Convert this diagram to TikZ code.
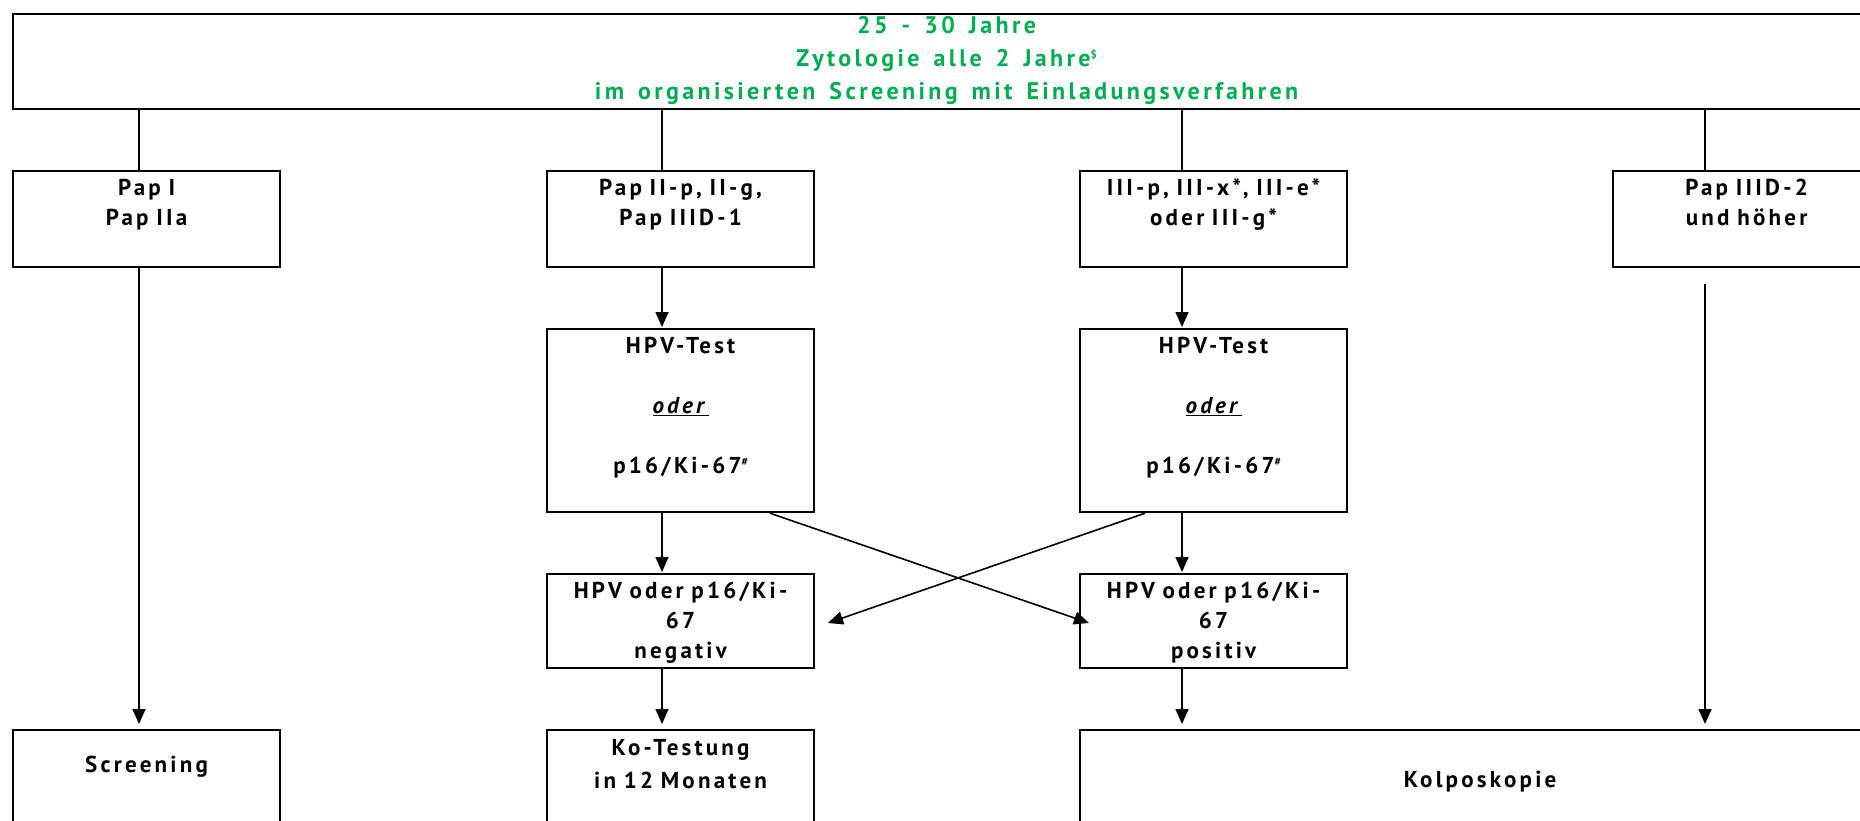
\documentclass[tikz,border=0pt]{standalone}
\usepackage{fontspec}
\setmainfont{PT Sans}[LetterSpace=14]
\usepackage{tikz}
\usetikzlibrary{arrows.meta}

\definecolor{agegreen}{RGB}{0,176,80}
\newcommand\supmark[1]{\raisebox{8pt}{\fontsize{11}{11}\selectfont#1}}

\begin{document}
\begin{tikzpicture}[x=1pt,y=-1pt]
\tikzset{stepbox/.style={draw,line width=2.2pt,anchor=north west,inner sep=0pt,
           font=\fontsize{23}{30}\selectfont\bfseries,
           align=center,text width=267pt,text height=24pt},
         flow/.style={line width=1.6pt,-{Triangle[length=15pt,width=13pt]}},
         branch/.style={line width=1.3pt}}
\useasboundingbox (0,0) rectangle (1860,820);
\clip (0,0) rectangle (1860,820);
% Age group
\node[stepbox,font=\fontsize{24}{30}\selectfont\bfseries,text width=1867pt,
      execute at begin node={\spaceskip 14pt\relax},
      text height=19pt,text depth=76pt,text=agegreen] (age) at (12,13)
  {25 - 30 Jahre\\[3pt]Zytologie alle 2 Jahre\supmark{\$}\\[3pt]im organisierten Screening mit Einladungsverfahren};
% Cytology results
\node[stepbox,text depth=72pt] (papI) at (12,170) {Pap I\\Pap IIa};
\node[stepbox,text depth=72pt] (papII) at (546,170) {Pap II-p, II-g,\\Pap IIID-1};
\node[stepbox,text depth=72pt] (papIII) at (1079,170) {III-p, III-x*, III-e*\\oder III-g*};
\node[stepbox,text depth=72pt] (papIIID) at (1612,170) {Pap IIID-2\\und höher};
% Tests
\node[stepbox,text depth=159pt] (hpvL) at (546,328)
  {HPV-Test\\[30pt]\underline{\textit{oder}}\\[30pt]p16/Ki-67\supmark{\#}};
\node[stepbox,text depth=159pt] (hpvR) at (1079,328)
  {HPV-Test\\[30pt]\underline{\textit{oder}}\\[30pt]p16/Ki-67\supmark{\#}};
\node[stepbox,text depth=70pt] (neg) at (546,573) {HPV oder p16/Ki-\\67\\negativ};
\node[stepbox,text depth=70pt] (pos) at (1079,573) {HPV oder p16/Ki-\\67\\positiv};
% Consequences
\node[stepbox,text height=42pt,text depth=80pt] (screen) at (12,729) {Screening};
\node[stepbox,text height=25pt,text depth=100pt] (cotest) at (546,729) {Ko-Testung\\[3pt]in 12 Monaten};
\node[stepbox,text width=800pt,text height=57pt,text depth=70pt] (colpo) at (1079,729) {Kolposkopie};
% Line positions
\coordinate (xa) at (139,0);
\coordinate (xb) at (662,0);
\coordinate (xc) at (1182,0);
\coordinate (xd) at (1705,0);
\coordinate (xe) at (770,0);
\coordinate (xf) at (1145,0);
\coordinate (negtip) at (828,623);
\coordinate (postip) at (1089,623);
% Branches from the age box
\foreach \c/\n in {xa/papI,xb/papII,xc/papIII,xd/papIIID}
  \draw[branch] (age.south -| \c) -- (\n.north -| \c);
% Arrows
\draw[flow,shorten >=5pt] (papI.south -| xa) -- (screen.north -| xa);
\draw[flow,shorten >=1pt] (papII.south -| xb) -- (hpvL.north -| xb);
\draw[flow,shorten >=1pt] (papIII.south -| xc) -- (hpvR.north -| xc);
\draw[flow,shorten <=16pt,shorten >=5pt] (papIIID.south -| xd) -- (colpo.north -| xd);
\draw[flow,shorten >=1pt] (hpvL.south -| xb) -- (neg.north -| xb);
\draw[flow,shorten >=1pt] (hpvR.south -| xc) -- (pos.north -| xc);
\draw[flow] (hpvL.south -| xe) -- (postip);
\draw[flow] (hpvR.south -| xf) -- (negtip);
\draw[flow,shorten >=5pt] (neg.south -| xb) -- (cotest.north -| xb);
\draw[flow,shorten >=5pt] (pos.south -| xc) -- (colpo.north -| xc);
\end{tikzpicture}
\end{document}
